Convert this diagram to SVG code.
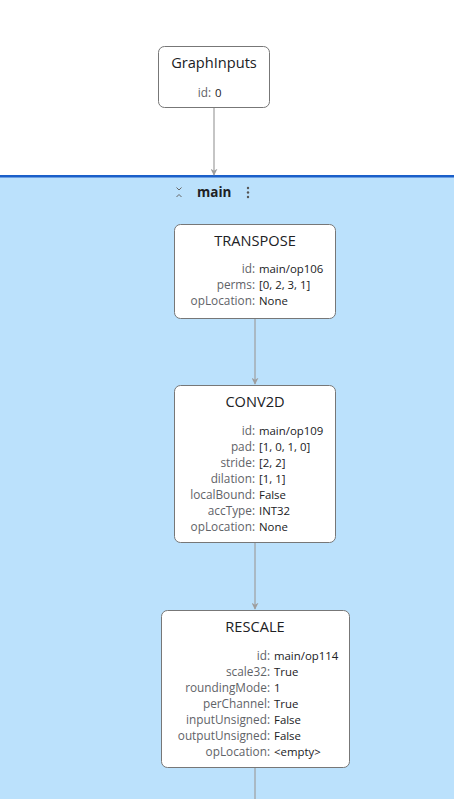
<svg xmlns="http://www.w3.org/2000/svg" width="454" height="799" viewBox="0 0 454 799">
<style>
.box{fill:#fff;stroke:#777;stroke-width:1}
.title{font-family:"Open Sans",Roboto,sans-serif;font-size:14.6px;fill:#202124;text-anchor:middle}
.k{font-family:"Open Sans",Roboto,sans-serif;font-size:11.8px;fill:#5f6368;text-anchor:end}
.v{font-family:"Open Sans",Roboto,sans-serif;font-size:11.4px;fill:#202124}
.edge{stroke:#9e9e9e;stroke-width:1.2;fill:none}
</style>
<defs>
<marker id="arr" viewBox="0 0 10 10" refX="9" refY="5" markerWidth="7" markerHeight="7" markerUnits="userSpaceOnUse" orient="auto">
<path d="M0,0 L10,5 L0,10 L3,5 z" fill="#9e9e9e"/>
</marker>
</defs>
<rect x="0" y="0" width="454" height="799" fill="#fff"/>
<g id="group-main">
<rect x="0" y="177" width="454" height="622" fill="#bbe1fc"/>
<rect x="0" y="175" width="454" height="2.5" fill="#1a5fc9"/>
<g fill="none" stroke="#666" stroke-width="1">
<path d="M176.5,187.5 L179,190 L181.5,187.5"/>
<path d="M176.5,197 L179,194.5 L181.5,197"/>
</g>
<text x="197" y="197" font-family="'Open Sans',Roboto,sans-serif" font-size="13.5px" font-weight="bold" fill="#202124">main</text>
<g fill="#555"><circle cx="248" cy="188" r="1.2"/><circle cx="248" cy="192.5" r="1.2"/><circle cx="248" cy="197" r="1.2"/></g>
</g>
<g id="edges">
<path class="edge" d="M214,107.5 L214,175" marker-end="url(#arr)"/>
<path class="edge" d="M255,318.5 L255,384" marker-end="url(#arr)"/>
<path class="edge" d="M255,542.5 L255,609" marker-end="url(#arr)"/>
<path class="edge" d="M255,767.5 L255,799"/>
</g>
<g id="node-graphinputs">
<rect class="box" x="158.5" y="46.5" width="111" height="61" rx="6"/>
<text class="title" x="214" y="68">GraphInputs</text>
<text class="k" x="211" y="97">id:</text><text class="v" x="215" y="97">0</text>
</g>
<g id="node-transpose">
<rect class="box" x="174.5" y="224.5" width="161" height="94" rx="6"/>
<text class="title" x="255" y="246">TRANSPOSE</text>
<text class="k" x="255" y="273">id:</text><text class="v" x="259" y="273">main/op106</text>
<text class="k" x="255" y="289">perms:</text><text class="v" x="259" y="289">[0, 2, 3, 1]</text>
<text class="k" x="255" y="305">opLocation:</text><text class="v" x="259" y="305">None</text>
</g>
<g id="node-conv2d">
<rect class="box" x="174.5" y="385.5" width="161" height="157" rx="6"/>
<text class="title" x="255" y="407">CONV2D</text>
<text class="k" x="255" y="435">id:</text><text class="v" x="259" y="435">main/op109</text>
<text class="k" x="255" y="451">pad:</text><text class="v" x="259" y="451">[1, 0, 1, 0]</text>
<text class="k" x="255" y="467">stride:</text><text class="v" x="259" y="467">[2, 2]</text>
<text class="k" x="255" y="483">dilation:</text><text class="v" x="259" y="483">[1, 1]</text>
<text class="k" x="255" y="499">localBound:</text><text class="v" x="259" y="499">False</text>
<text class="k" x="255" y="515">accType:</text><text class="v" x="259" y="515">INT32</text>
<text class="k" x="255" y="531">opLocation:</text><text class="v" x="259" y="531">None</text>
</g>
<g id="node-rescale">
<rect class="box" x="161.5" y="610.5" width="188" height="157" rx="6"/>
<text class="title" x="255" y="632">RESCALE</text>
<text class="k" x="270" y="660">id:</text><text class="v" x="274" y="660">main/op114</text>
<text class="k" x="270" y="676">scale32:</text><text class="v" x="274" y="676">True</text>
<text class="k" x="270" y="692">roundingMode:</text><text class="v" x="274" y="692">1</text>
<text class="k" x="270" y="708">perChannel:</text><text class="v" x="274" y="708">True</text>
<text class="k" x="270" y="724">inputUnsigned:</text><text class="v" x="274" y="724">False</text>
<text class="k" x="270" y="740">outputUnsigned:</text><text class="v" x="274" y="740">False</text>
<text class="k" x="270" y="756">opLocation:</text><text class="v" x="274" y="756">&lt;empty&gt;</text>
</g>
</svg>
